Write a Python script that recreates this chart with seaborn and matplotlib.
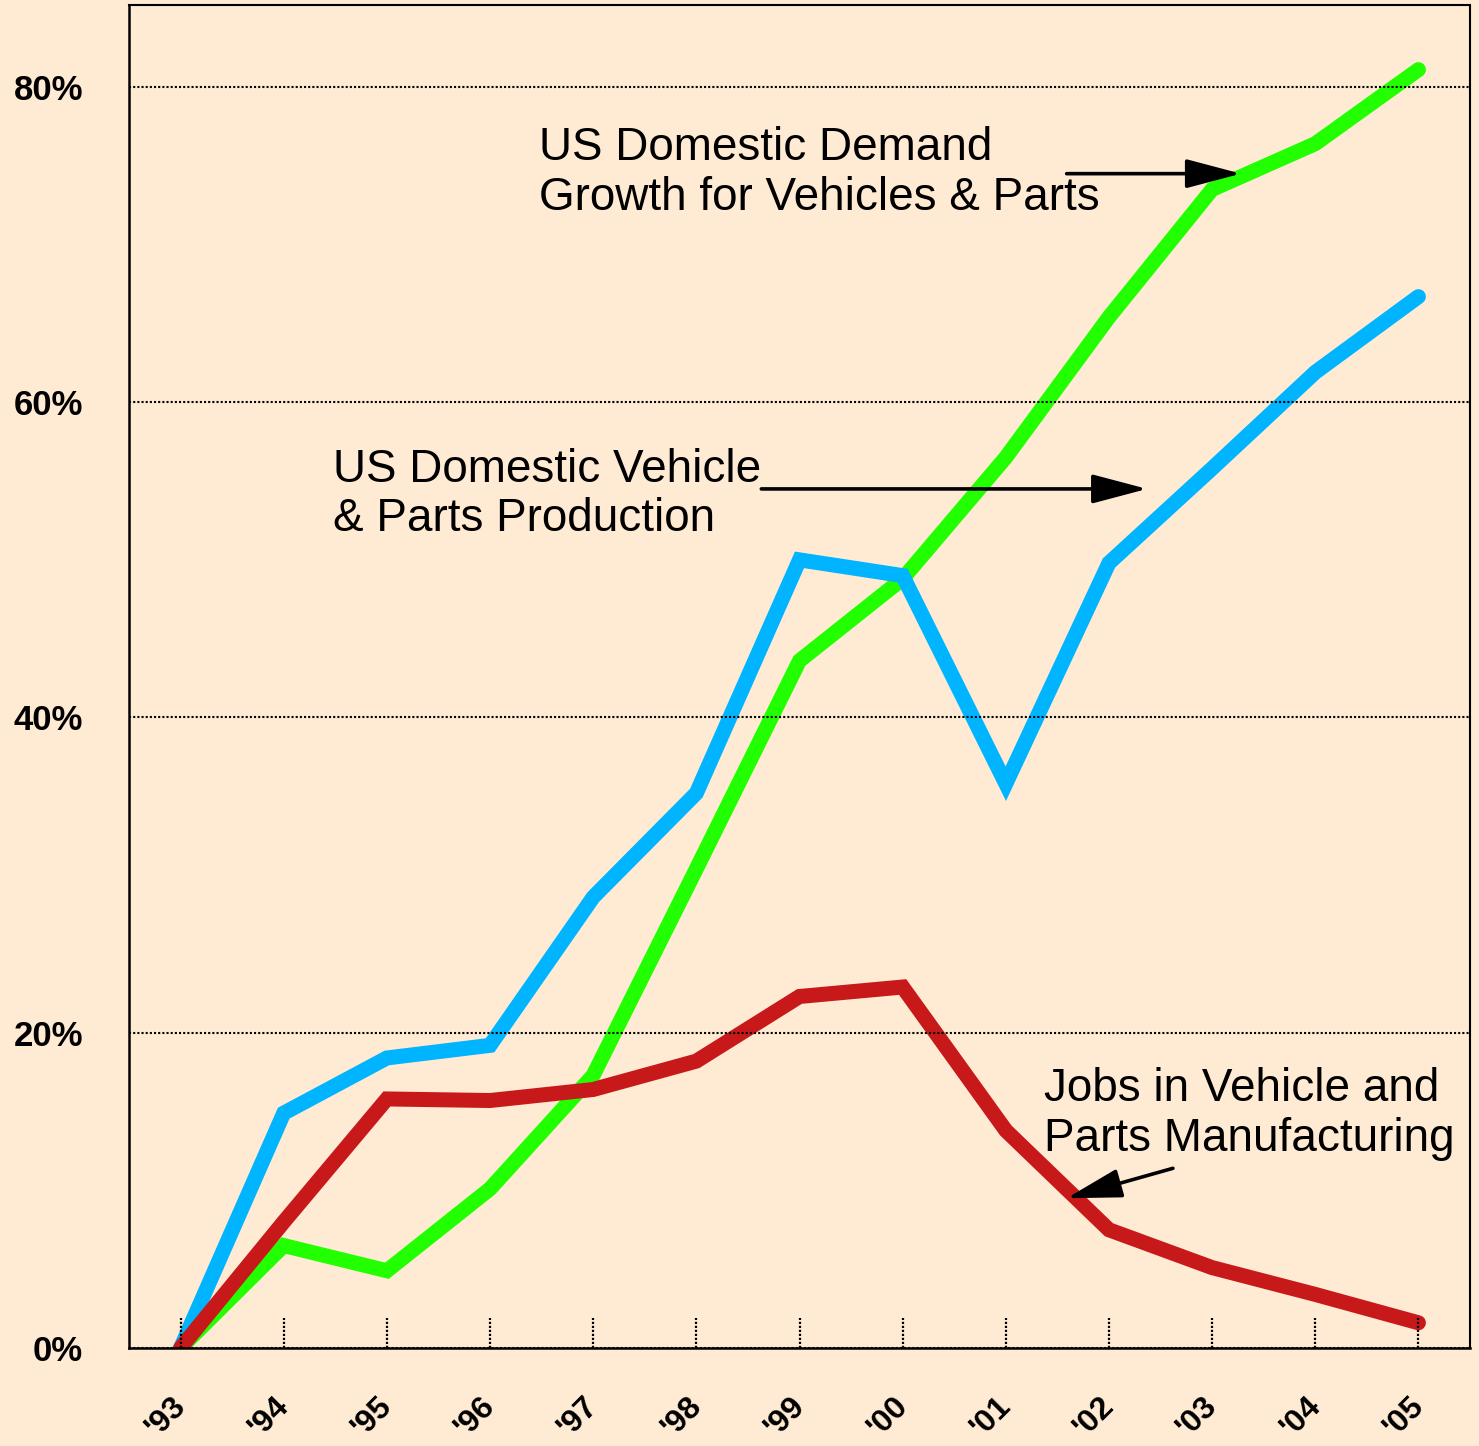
import numpy as np
import pandas as pd
import matplotlib
matplotlib.use("Agg")
import matplotlib.pyplot as plt
import matplotlib.transforms as mtransforms
import seaborn as sns

# ---- data ----
years = ["'93", "'94", "'95", "'96", "'97", "'98", "'99", "'00", "'01", "'02", "'03", "'04", "'05"]
demand = [0, 6.5, 4.9, 10.1, 17.3, 30.4, 43.6, 48.8, 56.5, 65.4, 73.5, 76.4, 81.1]
production = [0, 14.9, 18.4, 19.2, 28.6, 35.2, 50.0, 49.0, 35.8, 49.8, 55.8, 61.9, 66.7]
jobs = [0, 8.0, 15.8, 15.7, 16.4, 18.2, 22.3, 22.9, 13.8, 7.5, 5.1, 3.4, 1.6]
series_names = ["demand", "production", "jobs"]
colors = ["#22FF00", "#00B4FF", "#C8191A"]
ytick_vals = [0, 20, 40, 60, 80]
ytick_labels = ["0%", "20%", "40%", "60%", "80%"]

label_demand = "US Domestic Demand\nGrowth for Vehicles & Parts"
label_prod = "US Domestic Vehicle\n& Parts Production"
label_jobs = "Jobs in Vehicle and\nParts Manufacturing"

idx = np.arange(len(years))
df = pd.concat([
    pd.DataFrame({"x": idx, "value": demand, "series": "demand"}),
    pd.DataFrame({"x": idx, "value": production, "series": "production"}),
    pd.DataFrame({"x": idx, "value": jobs, "series": "jobs"}),
], ignore_index=True)

sns.set_style("white")
plt.rcParams["font.family"] = ["Liberation Sans", "DejaVu Sans"]
plt.rcParams["text.color"] = "black"
plt.rcParams["xtick.color"] = "black"
plt.rcParams["ytick.color"] = "black"

bg = "#FFEBD3"
fig = plt.figure(figsize=(14.79, 14.46), dpi=100, facecolor=bg)
ax = fig.add_axes([129 / 1479, 98 / 1446, (1470 - 129) / 1479, (1348 - 5) / 1446])
ax.set_facecolor(bg)

sns.lineplot(data=df, x="x", y="value", hue="series", hue_order=series_names,
             palette=colors, linewidth=10.8, sort=False, legend=False, ax=ax,
             solid_capstyle="round", solid_joinstyle="miter", estimator=None)

ax.set_xlim(-0.5, 12.5)
ax.set_ylim(0, 85.2)

# gridlines on top
ax.set_axisbelow(False)
ax.yaxis.grid(True, color="black", linestyle=(0, (1, 1)), linewidth=1.5)
ax.xaxis.grid(False)

# spines
for s in ["left", "bottom"]:
    ax.spines[s].set_linewidth(1.8)
    ax.spines[s].set_color("black")
for s in ["top", "right"]:
    ax.spines[s].set_linewidth(1.5)
    ax.spines[s].set_linestyle((0, (1, 1)))
    ax.spines[s].set_color("black")

# y ticks
ax.set_yticks(ytick_vals)
ax.set_yticklabels(ytick_labels, fontsize=25, fontweight="bold", color="black")
ax.tick_params(axis="y", length=0, pad=33)

# x ticks
ax.set_xticks(idx)
ax.set_xticklabels(years, fontsize=23, fontweight="bold", rotation=45, color="black",
                   ha="center", va="center", rotation_mode="anchor")
ax.tick_params(axis="x", length=0, pad=50)
offset = mtransforms.ScaledTranslation(-15 / 100, 0, fig.dpi_scale_trans)
for lab in ax.get_xticklabels():
    lab.set_transform(lab.get_transform() + offset)

# dotted inner tick marks
trans = mtransforms.blended_transform_factory(ax.transData, ax.transAxes)
ax.vlines(idx, 0, 30 / 1343, transform=trans, colors="black",
          linestyles=(0, (1, 0.8)), linewidth=1.6, zorder=3)

ax.set_xlabel("")
ax.set_ylabel("")

# annotations
tfont = dict(fontsize=33, color="black", ha="left", va="top", linespacing=1.16)
ax.text(3.47, 77.5, label_demand, **tfont)
ax.text(1.48, 57.1, label_prod, **tfont)
ax.text(8.37, 17.8, label_jobs, **tfont)

aprops = dict(arrowstyle="-|>,head_length=1.7,head_width=0.45", color="black",
              lw=2.6, mutation_scale=20, shrinkA=0, shrinkB=0)
ax.annotate("", xy=(10.28, 74.5), xytext=(8.59, 74.5), arrowprops=aprops, zorder=4)
ax.annotate("", xy=(9.37, 54.5), xytext=(5.63, 54.5), arrowprops=aprops, zorder=4)
ax.annotate("", xy=(8.59, 9.5), xytext=(9.62, 11.4), arrowprops=aprops, zorder=4)

fig.savefig("out.png", dpi=100, facecolor=bg)
